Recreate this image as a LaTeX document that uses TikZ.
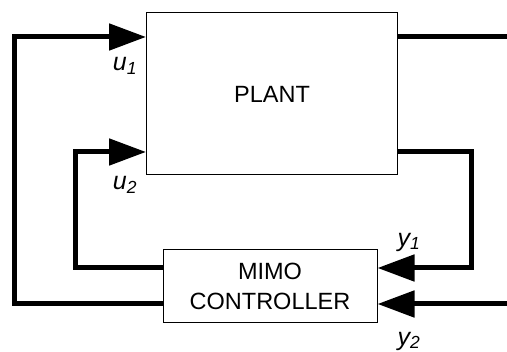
\documentclass[tikz,border=0pt]{standalone}
\usepackage{fontspec}
\setmainfont{Liberation Sans}
\usetikzlibrary{arrows.meta,positioning,calc}

\begin{document}
\begin{tikzpicture}[
  x=1pt, y=-1pt,
  box/.style={draw, line width=1pt, align=center, font=\fontsize{23.5}{30}\selectfont},
  sig/.style={line width=5pt},
  arrow/.style={sig, -{Triangle[length=37pt,width=26pt]}},
  lbl/.style={font=\fontsize{25}{26}\selectfont\itshape}
]
\useasboundingbox (0,0) rectangle (507,352);

\node[box, minimum width=251pt, minimum height=162pt] (plant) at (272,94) {PLANT};
\node[box, minimum width=214pt, minimum height=73pt] (ctrl) at (270,286.5) {MIMO\\CONTROLLER};

% corner points of the loops
\coordinate (ul) at (14,37);
\coordinate (il) at (75,152);
\coordinate (ir) at (471,152);
\coordinate (out1) at (507,37);
\coordinate (out2) at (507,304);
\coordinate (y1in) at ([yshift=18.5pt]ctrl.east);

\draw[arrow] ([yshift=-17.5pt]ctrl.west) -| (ul) -- (plant.west |- ul);
\draw[arrow] ([yshift=18.5pt]ctrl.west) -| (il) -- (plant.west |- il);
\draw[sig] (plant.east |- out1) -- (out1);
\draw[arrow] (plant.east |- ir) -- (ir) |- (y1in);
\draw[arrow] (out2) -- (out2 -| ctrl.east);

\node[lbl] (u1) at (125,66) {u\textsubscript{1}};
\node[lbl] (u2) at (125,185) {u\textsubscript{2}};
\node[lbl] (y1) at (409,242) {y\textsubscript{1}};
\node[lbl] (y2) at (409,341) {y\textsubscript{2}};

\end{tikzpicture}
\end{document}
